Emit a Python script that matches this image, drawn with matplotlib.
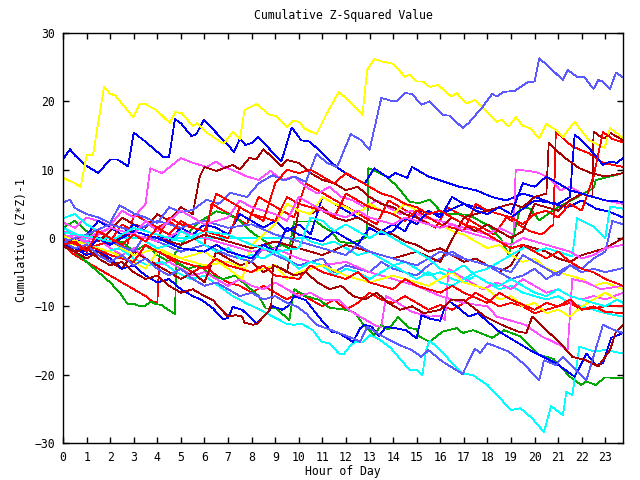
import matplotlib
matplotlib.use("Agg")
import matplotlib.pyplot as plt

# ---------------- data (hour, cumulative value) ----------------
yellow1_h = [0,0.5,0.75,1.0,1.27,1.74,2.0,2.2,2.97,3.26,3.5,3.97,4.53,4.75,5.03,5.5,5.7,6.1,6.8,7.2,7.5,7.7,8.2,8.77,9.0,9.5,9.75,10.0,10.25,10.75,11.2,11.7,12.3,12.7,12.9,13.2,13.56,14.0,14.5,14.7,15.0,15.26,15.55,15.9,16.47,16.7,17.1,17.46,18.4,18.6,18.9,19.2,19.5,19.8,20.2,20.5,20.9,21.2,21.7,22.3,22.97,23.2,23.75]
yellow1_v = [8.8,8.0,7.5,12.1,12.1,22.1,21.1,20.9,17.7,19.6,19.6,18.7,16.8,18.4,18.3,16.4,16.8,15.4,13.8,15.5,14.5,18.7,19.6,18.0,17.9,16.2,17.2,17.0,16.0,15.2,18.3,21.4,19.5,18.0,24.6,26.2,25.8,25.5,23.6,23.9,22.9,22.9,22.1,22.4,20.7,21.2,19.7,20.2,17.0,17.3,16.3,17.7,16.4,16.1,14.6,16.7,15.8,14.8,17.0,14.3,13.2,16.1,14.6]

lblue1_h = [0,0.3,0.5,1,1.5,2,2.4,3,3.5,4,4.5,5,5.5,6.1,6.6,7.1,7.8,8.3,8.9,9.4,9.8,10.3,10.5,10.75,11.2,11.6,11.7,12.2,12.65,13.0,13.5,13.9,14.2,14.5,14.8,15.2,15.55,16.1,16.4,16.95,17.2,17.8,18.2,18.4,18.7,19.15,19.7,20.0,20.2,20.6,21.2,21.4,21.8,22.1,22.5,22.7,22.9,23.2,23.45,23.75]
lblue1_v = [5.2,5.6,4.4,3.5,3.0,2.2,4.8,3.6,3.0,2.2,4.5,3.8,4.1,5.6,5.0,6.6,6.0,8.0,9.2,8.4,9.0,8.2,10.0,12.3,11.0,10.4,11.0,15.2,14.3,12.9,20.5,20.1,20.1,21.2,21.1,19.5,20.0,18.0,17.9,16.1,16.8,19.2,21.1,20.7,21.4,21.5,22.8,22.9,26.3,25.1,23.1,24.6,23.6,23.6,21.8,23.1,22.9,21.8,24.2,23.5]

blue1_h = [0,0.3,0.5,0.93,1.5,2.0,2.3,2.76,3.0,3.5,4.24,4.5,4.75,5.0,5.45,5.66,5.97,6.5,7.0,7.25,7.5,7.74,8.0,8.27,9.26,9.7,10.1,10.47,11.6,12.2,12.8,13.2,13.8,14.1,14.6,14.8,15.5,16.2,16.8,17.5,18.2,18.8,19.5,20.2,20.8,21.4,22.0,22.6,23.2,23.75]
blue1_v = [11.5,13.0,12.1,10.7,9.5,11.5,11.5,10.5,15.4,14.1,11.9,11.9,17.4,16.8,14.9,15.2,17.3,15.4,13.6,12.6,14.5,13.6,13.9,14.8,11.2,16.2,14.3,14.1,10.4,9.0,8.0,10.2,8.8,9.5,8.8,10.4,9.0,8.2,7.5,7.0,6.0,5.5,6.5,5.8,5.0,4.5,5.5,4.3,3.8,3.0]

magenta1_h = [0,0.5,1,1.5,2,2.5,3,3.5,3.7,4.2,4.75,5.0,5.5,6.1,6.5,6.8,7.3,7.8,8.3,8.8,9.3,9.8,10.3,10.8,11.3,11.8,12.3,12.8,13.3,13.8,14.3,14.8,15.3,16,17,18,18.5,19.1,19.2,19.8,20.2,20.6,21.1,21.5,22,22.5,23,23.75]
magenta1_v = [2.3,1.5,3.0,2.5,1.8,4.0,3.0,5.0,10.2,9.5,11.0,11.7,11.0,10.4,11.2,10.4,9.8,9.0,8.5,9.8,8.5,9.0,7.5,6.5,7.5,6.0,5.5,4.5,5.5,4.5,3.5,4.0,3.0,2.5,1.5,0.5,1.5,0.5,10.0,9.8,9.5,8.8,7.0,7.5,6.5,6.0,5.5,5.0]

cyan_flat_h = [0,10.3,10.5,11,11.5,12,12.5,13,13.5,14,14.5,15,15.5,16,16.5,17,17.5,18,18.5,19,19.5,20,20.5,21,21.5,22,22.5,23,23.75]
cyan_flat_v = [0,0,-0.5,-1,-0.5,-1.5,-2.5,-2,-3,-4,-3.5,-4.5,-5.5,-5,-6,-6.5,-5.5,-6.5,-7.5,-7,-8,-8.5,-9,-8.5,-9.5,-10,-10.5,-11,-11.5]

cyan_low_h = [0,0.6,1.2,1.8,2.4,3,3.6,4.2,4.8,5.4,6,6.6,7.2,7.8,8.35,8.9,9.5,9.83,10.1,10.6,10.96,11.3,11.7,11.9,12.2,12.4,12.7,13.0,13.4,13.9,14.7,15.0,15.24,15.4,15.55,16.0,16.4,16.95,17.4,18.0,18.6,19.0,19.4,19.9,20.4,20.7,21.2,21.35,21.6,21.9,22.5,23.0,23.75]
cyan_low_v = [1.5,0.5,-1,-2,-1.5,-3,-4,-3.5,-5,-6,-5.5,-7,-8.5,-9.6,-10.5,-11.5,-12.6,-12.7,-12.5,-13.5,-15.2,-15.4,-16.9,-17,-15.7,-15.2,-15.3,-14.2,-14.8,-16.1,-19.3,-19.3,-20.1,-16.4,-15.0,-16.4,-17.9,-19.8,-20.1,-21.5,-23.7,-25.2,-24.9,-26.4,-28.4,-24.6,-25.9,-22.5,-23.0,-15.9,-16.6,-16.4,-16.9]

green_low_h = [0,0.5,1,1.5,2,2.4,2.75,3.05,3.26,3.47,3.7,3.97,4.2,4.4,4.75,4.8,5.3,5.8,6.3,6.8,7.3,7.8,8.3,8.6,9.05,9.26,9.6,9.8,10.3,10.9,11.3,12.0,12.4,12.7,13.0,13.2,13.5,13.8,14.2,14.5,14.7,15.0,15.1,15.55,16.1,16.7,16.95,17.4,18.2,18.7,19.4,20.2,20.8,21.5,21.97,22.2,22.6,22.97,23.75]
green_low_v = [-0.3,-2,-3.5,-5,-6.5,-8,-9.7,-9.7,-10,-10,-9.3,-9.7,-9.8,-10.4,-11.1,-3.5,-4.5,-4,-5.5,-6,-5.5,-7,-8.5,-10.3,-10.3,-11,-12,-7.5,-8.5,-9.1,-10.2,-10.5,-11,-12.5,-13.5,-14.2,-12.7,-13.4,-11.6,-12.5,-13.2,-13.3,-14.4,-15.2,-13.7,-13.2,-13.9,-13.5,-14.6,-13.5,-14.4,-17.1,-17.7,-20.3,-21.5,-21,-21.5,-20.4,-20.5]

green_mid_h = [0,0.5,1,1.5,2,2.5,3,3.5,4,4.5,5,5.5,5.9,6.5,7,7.5,8.05,8.5,8.9,9.3,9.6,9.8,10.75,11,11.4,11.7,12.2,12.6,12.9,12.95,13.3,13.7,14.1,14.7,15.1,15.55,16.1,17.2,18.1,18.6,18.9,19.4,19.8,20.2,20.9,21.6,22.5,22.6,23.2,23.75]
green_mid_v = [1.5,2.5,1,0,-1,-0.5,-2,-1,-2.5,-3.5,-1,1.5,2.6,3.9,3.5,2.5,0.7,-0.3,-1.5,-1,-1.5,2.4,2.4,1.7,0.9,-0.5,-0.8,-0.3,0.2,10.2,9.7,9.0,7.8,5.3,5.1,5.6,3.6,3.4,1.7,-0.3,-2.5,4.6,4.3,2.6,4.3,5.6,7.3,8.5,9.0,9.5]

blue_low_h = [0,0.5,1,1.5,2,2.5,3,3.5,4,4.5,5,5.5,5.9,6.36,6.8,7.0,7.2,7.6,7.9,8.2,8.56,8.9,9.3,9.6,9.8,10.3,11,11.4,11.7,12.3,12.6,12.8,13.1,13.4,13.7,14.1,14.56,15,15.2,15.55,16,16.2,16.4,16.8,17.2,17.6,18.5,19.8,20.9,21.7,22.2,22.6,22.9,23.25,23.75]
blue_low_v = [-0.8,-1.5,-2.5,-1.8,-3,-4.5,-4,-5.5,-6.5,-6,-7.5,-8.5,-9.1,-10.3,-11.9,-11.7,-10.1,-10.5,-11.5,-12.5,-11.3,-10,-10.5,-9.8,-8.5,-9.1,-12.2,-13.7,-13.9,-15.2,-13.2,-12.7,-13,-14.4,-13,-13.2,-13.5,-14.7,-11.3,-11.8,-12.1,-10,-9.3,-10.3,-11.5,-11,-13.7,-16.4,-18.3,-20.3,-16.9,-18.6,-18.3,-14.6,-13.9]

dred_low_h = [0,0.5,1,1.5,2,2.5,3,3.5,4,4.5,5,5.5,6,6.36,6.8,7.0,7.3,7.6,7.7,8.05,8.26,8.5,8.7,8.84,8.9,9.3,9.8,10.3,10.8,11.3,11.8,12.3,12.8,13.3,13.8,14.3,14.8,15.3,16,16.5,17,17.9,18.6,19.3,19.65,19.9,20.5,21.1,21.6,22.2,22.7,23.2,23.45,23.75]
dred_low_v = [-1,-2,-1.5,-3,-4,-3.5,-5,-6,-5.5,-7,-8,-7.5,-8.5,-9.1,-10.8,-11.5,-11.3,-11.5,-12.4,-12.7,-12.5,-11.5,-10.8,-9.6,-4,-4.5,-5.5,-5,-6.5,-7.5,-7,-8.5,-9,-8,-9.5,-10.5,-10,-11,-10.5,-9,-9.1,-11.5,-12.7,-13.7,-13.9,-11.5,-13.5,-15.4,-17.4,-17.9,-18.8,-16.4,-13.7,-12.7]

lblue_low_h = [0,0.5,1,1.5,2,2.5,3,3.5,4,4.5,5,5.5,6,6.5,7,7.5,8,8.5,9,9.5,9.9,10.3,10.75,11.4,12.3,12.6,12.9,13.56,14.3,14.8,15.2,15.5,16.1,16.95,17.46,17.7,18.0,18.9,19.5,20.2,20.4,20.9,21.2,22.2,22.9,23.4,23.75]
lblue_low_v = [-0.5,-1.5,-1,-2.5,-3.5,-2.5,-4,-3,-4.5,-5.5,-4.5,-6,-7,-6.5,-7.5,-8.5,-8,-9,-8.5,-9.5,-10,-11,-12.7,-13.5,-14.7,-15.2,-13,-14.4,-15.7,-16.4,-17.4,-16.4,-18.1,-19.9,-16.2,-16.8,-15.4,-16.6,-18.3,-20.8,-17.9,-18.6,-17.4,-20.8,-12.7,-13.5,-13.9]

magenta2_h = [0,0.5,1,1.5,2,2.5,3,3.5,4,4.5,5,5.5,6,6.5,7,7.5,8,8.5,9,9.5,10,10.5,11,11.7,12.1,12.6,13.3,13.5,13.7,14.2,14.8,15.55,16.0,16.2,16.35,16.8,17.3,17.8,18.4,19,19.5,20,20.5,21,21.5,22,22.5,23,23.75]
magenta2_v = [-0.3,0.5,-1,0,-1.5,-2.5,-1.5,-3,-4,-3.5,-4.5,-5.5,-5,-6,-7,-6,-7,-7.5,-6.5,-7.5,-8.5,-8,-9,-9.1,-10.5,-11.5,-12.9,-13,-8.5,-9.5,-10.8,-11.5,-11.4,-12,-4.5,-5.5,-6.5,-7.5,-6.5,-7.5,-6,-7,-8,-7.5,-8.5,-9,-8.5,-9,-8]

magenta3_h = [0,1,2,3,4,5,6,7,8,9,10,11,12,13,14,15,16,17,18,18.4,19.6,20.3,21.1,21.4,21.6,22.2,22.8,23.75]
magenta3_v = [0.5,-0.5,1.5,0.5,-0.5,1,0,-1,-2,-1.5,-3,-4,-3.5,-5,-6,-7,-8.5,-9.5,-10,-11.5,-12.7,-14.4,-15.7,-16.4,-6,-6.5,-7.5,-7]

magenta4_h = [0,1,2,3,3.5,4,5,5.5,6,7,7.5,8,9,9.5,10,10.5,11,12,12.5,13,14,14.5,15,16,16.5,17,18,19,19.5,20,21,21.5,22,22.5,23,23.75]
magenta4_v = [1,0,1.5,0.5,2.5,1,4,3,2,3,5.5,4.5,3.5,2.5,6,5,4,3,4,3,2,3,2.5,1.5,2,1,0,-1,0,-0.5,-1.5,-2,-3,-2.5,-1.5,-1]

yellow2_h = [0,1,2,3,4,5,6,7,7.6,8,8.5,9,9.5,10,10.5,11,11.5,12,12.5,13,13.5,14,14.5,15,15.5,16,16.5,17,17.5,18,18.5,19,19.5,20,20.5,21,21.5,22,22.5,23,23.75]
yellow2_v = [-0.5,-1.5,-0.5,-2.5,-1.5,-3,-2,-4.5,-6,-1,0.5,2,5,4,3.5,6,5,4.5,3.5,5,4,3.5,5,4,3,2,1,0.5,-0.5,-1.5,-1,-2.5,-3.5,-3,-4.5,-5,-5.5,-6,-7,-6.5,-7.5]

yellow3_h = [0,1,2,3,3.5,4,5,6,7,8,9,9.5,10,11,12,13,14,15,15.5,16,16.5,17,18,18.5,19,19.5,20,20.5,21,21.5,22,22.5,23,23.75]
yellow3_v = [0.3,-1,-2,-3.5,-4.5,-2,-3,-4,-3.5,-5,-4,-6,-5,-4,-5.5,-6.5,-5.5,-6.5,-7,-6,-5,-6.5,-7.5,-9,-8.5,-10,-9.5,-11,-10.5,-11.5,-10,-9,-8,-9.5]

cyan2_h = [0,0.5,1,1.5,2,2.5,3,3.5,4,4.5,5,5.5,6,6.5,7,7.5,8,8.5,9,9.5,10,10.5,11,11.5,12,12.5,13,13.5,14,14.5,15,15.5,16,16.5,17,17.5,18,18.5,19,19.6,20,20.5,21,21.6,21.8,22.5,23,23.2,23.75]
cyan2_v = [2.9,3.5,2,1,0,-1,0.5,-0.5,-1.5,-1,1,0,-1,-2,-1.5,-3,-2.5,-3,-2,-3,-4.5,-3.5,-4,-5.5,-4.5,-5,-6,-5,-4,-5,-6,-5,-6.5,-7,-6,-5,-4.5,-3.5,-2.5,-1.3,-2,-1.5,-2,-2.7,2.9,1.7,0,4.6,4.3]

cyan3_h = [0,1,2,3,4,5,6,7,8,9,10,10.5,11,11.5,12,12.5,13,13.5,14,14.5,15,15.5,16,16.5,17,17.5,18,18.5,19,19.5,20,20.5,21,21.5,22,22.5,23,23.5,23.75]
cyan3_v = [0.8,0.3,-0.5,1.5,0.5,-0.5,1,0.5,-1,-2,-1.5,3,2.5,1,2,1,0,1,0,-1,-2,-3,-4.5,-5,-4,-5.5,-6.5,-7,-6,-7,-8,-8.5,-7.5,-8.5,-9,-9.5,-10,-9,-9.5]

blue2_h = [0,0.5,1,1.5,2,2.5,3,3.5,4,4.5,5,5.5,6,6.5,7,7.5,8,8.5,9,9.5,10,10.5,11,11.5,12,12.5,13,13.5,14,14.5,15,16,17,18,19,20,21,21.5,21.7,22,22.5,22.9,23.2,23.5,23.75]
blue2_v = [-0.5,-1,0.5,2.5,1.5,0.5,2,1,0.5,-0.5,1.5,0.5,2,1.5,0.5,3.5,2.5,1.5,2.5,1,2,0.5,6,5,4,3,2,1,2,1,4,3.5,5,4,3,5.5,5,6,15.1,14.3,12.4,10.7,11.2,11,11.7]

blue4_h = [0,1,1.5,2,3,4,5,6,6.5,7,8,8.5,9,9.5,10,11,11.5,12,12.5,13,13.5,14,14.5,15,15.5,16,16.5,17,17.5,18,18.5,19,19.5,20,20.5,21,21.5,22,22.5,23,23.75]
blue4_v = [-1,-2,0,-1,1,0,-1.5,-2,-1,-2,-3,-1,-2,1.5,0.5,-0.5,1,0,-1,1.5,0.5,1,3,2,4,3,6,5,4,3.5,4.5,3.5,8,7.5,9,8,7,6.5,6,5.5,5.3]

lblue2_h = [0,1,2,3,3.5,4,5,6,7,8,8.5,9,10,11,11.5,12,13,13.5,14,15,15.5,16,16.5,17,18,18.5,19,19.5,20,20.5,21,21.5,22,22.5,23,23.3,23.75]
lblue2_v = [0,-1.5,-0.5,-2,0.5,-0.5,-2,-1,-2.5,-3.5,-1.5,-2.5,-4,-3,-5,-4,-5,-3.5,-4.5,-5.5,-4,-3,-2,-3,-4,-5,-6,-5.5,-4.5,-6,-5,-4,-4.5,-3,-2,2.5,2]

lblue3_h = [0,1,2,3,4,5,6,7,8,9,10,11,12,12.5,13,14,15,15.5,16,17,18,19,19.5,20,20.5,21,21.5,22,22.5,23,23.75]
lblue3_v = [-0.6,0.5,2,1,2.5,1.5,2.5,1.5,2,0.5,-0.5,-1.5,-2.5,-1,-2,-3,-4,-3,-2,-3,-4,-5,-2.5,-3.5,-4.5,-5.5,-4,-5,-4.5,-5,-4.4]

red1_h = [0,0.5,1,1.2,1.7,2.2,2.7,3.0,3.5,4,4.5,5,5.5,6,6.3,6.8,7.3,7.8,8.3,8.8,9.3,9.8,10.3,10.8,11.3,11.8,12.3,12.8,13.3,13.8,14.3,14.8,15.3,15.8,16.3,16.8,17.3,17.8,18.3,18.8,19.3,19.8,20.3,20.8,20.9,21.2,21.6,22.3,22.9,23.75]
red1_v = [-0.5,-1.5,-2.5,1.5,0.5,-0.5,-1.5,3.5,2.5,1.5,2.5,1,0,-1,5,4,3,2,6,5,4,3,8,7,6,5,4,3,2,5.5,4.5,3.5,2.5,1.5,4.5,3.5,2.5,1.5,0.5,3,2,1,0.5,2,15.6,14.6,13.4,12.4,11,10.4]

red2_h = [0,0.5,1,1.5,2,2.5,3,3.5,3.8,4.0,4.1,4.5,5,5.5,6,6.5,7,7.5,8,8.5,9,9.5,10,10.5,11,11.5,12,12.5,13,13.5,14,14.5,15,15.5,16,16.5,17,17.5,18,18.5,19,19.5,20,20.5,21,21.5,22,22.5,23,23.75]
red2_v = [-1,-2.5,-3.5,-4.5,-5.5,-6.5,-7.5,-8.5,-9.3,-9.5,-2,-3,-4,-5,-4,-5.5,-6.5,-7,-8,-7,-8,-9,-8,-9,-10,-9,-10.5,-9.5,-8,-9,-9.5,-8.5,-9.5,-10.5,-9.8,-10.5,-9.5,-8,-9,-10,-9.5,-10,-11,-10.5,-10,-9.5,-10.5,-10,-10.8,-11]

red3_h = [0,1,2,2.5,3,4,4.5,5,6,7,7.5,8,9,9.5,10,11,11.5,12,12.5,13,14,14.5,15,15.5,16,17,17.5,18,19,19.5,20,20.5,21,21.5,22,22.5,22.9,23.3,23.75]
red3_v = [-0.3,-1.5,-0.5,2,1,0,3,2,1,0,4.5,3.5,2.5,6,5,4,3,6.5,5.5,4.5,3.5,2.5,4,3,2,1,5,4,3,2,3.5,4,3,5,4,9,15.5,14.5,14]

red4_h = [0,0.5,1,2,3,3.5,4,5,6,6.5,7,8,8.5,9,10,10.5,11,12,12.5,13,14,14.5,15,16,16.5,17,18,18.5,19,20,20.5,21,21.5,22,23,23.75]
red4_v = [-0.8,-2,-1,-2.5,-3.5,-1,-2,-3.5,-4.5,-3,-4,-5,-4,-5.5,-6,-4,-5,-6,-5,-6.5,-7.5,-6,-7,-8,-7,-8,-9.5,-8,-9,-10.5,-9.5,-10,-9,-10.5,-10,-10]

red5_h = [0,0.5,1,1.5,2,2.5,3,3.5,4,4.5,5,5.5,6,6.5,7,7.5,8,8.5,9,9.5,10,10.5,11,11.5,12,12.5,13,13.5,14,14.5,15,15.5,16,16.5,17,17.5,18,18.5,19,19.5,20,20.5,21,21.5,22,22.5,23,23.75]
red5_v = [-1,-0.5,-2,1,0,-1,0.5,-0.5,1.5,0.5,2.5,1.5,1,6.5,5.5,4.5,3.5,2.5,8,10,9.5,10,9,8,9.5,8.5,7.5,6.5,6,5,4.5,3.5,4,3,2,1.5,0.5,-0.5,-1.5,-1,-2,-3,-2,-3.5,-4.5,-5,-6,-7]

dred1_h = [0,0.5,1,1.5,2,2.5,3,3.5,4,4.5,5,5.5,5.8,6.0,6.5,7.2,7.5,7.9,8.2,8.5,8.9,9.26,9.5,10.0,10.5,11,11.5,12,12.5,13,13.5,14,14.5,15,15.5,16,16.5,17,17.5,18,18.5,19,19.5,20,20.5,21,21.5,22,22.45,22.5,22.8,23.0,23.2,23.75]
dred1_v = [-0.5,-1,0.5,-0.5,1,3,2,1.5,3.5,2.5,4.5,3.5,9,10.4,9.8,10.7,10,11.7,11.5,13,11.7,10.5,11.4,11,9.5,8.5,8,7,7.5,6,5,4.5,3.5,3,2,1.5,3,2,1,2,1,0,1,5,4.5,4,5.5,6.5,6,15.6,14.8,14.6,15.4,14.3]

dred2_h = [0,0.5,1,1.5,2,2.5,3,3.5,4,4.5,5,5.5,6,6.5,7,7.5,8,8.5,9,9.5,10,10.5,11,11.5,12,12.5,13,13.5,14,14.5,15,15.5,16,16.5,17,17.5,18,18.5,19,19.5,20,20.5,21,21.5,22,22.5,23,23.75]
dred2_v = [-1.2,-2,-3,-2,-3.5,-4.5,-2,-3,-4,-5,-6,-5,-6.5,-2,-3,-4,-3.5,-5,-4,-5,4,3.5,4.5,3,2.5,3,2,1,0.5,-0.5,-1,-2,-1.5,-2.5,-3.5,-3,-4,-5,-4,-1,-1.5,-2,-3,-3.5,-2.5,-2,-1.5,0]

dred3_h = [0,1,2,3,4,5,6,7,8,9,10,11,12,13,14,15,16,17,18,19,19.5,20,20.5,20.6,20.9,21.3,21.9,22.4,23,23.75]
dred3_v = [-0.8,0.5,-0.5,1,0,-1,0.5,-0.5,-1.5,-0.5,-1.5,-2.5,-1,-2,-3,-2,-3.5,3,4,5,4.5,6,6.5,13.9,12.9,11.7,10.2,9.5,9,9.5]

# series -> colour
RED, DRED, GREEN, BLUE, LBLUE = "#ff0000", "#a80000", "#00a800", "#0000ff", "#5a5aff"
MAG, CYAN, YEL = "#ff50ff", "#00ffff", "#ffff00"
series = [
    (red1_h, red1_v, RED), (green_mid_h, green_mid_v, GREEN), (blue1_h, blue1_v, BLUE),
    (magenta1_h, magenta1_v, MAG), (cyan_flat_h, cyan_flat_v, CYAN), (dred1_h, dred1_v, DRED),
    (yellow1_h, yellow1_v, YEL), (lblue1_h, lblue1_v, LBLUE),
    (red2_h, red2_v, RED), (green_low_h, green_low_v, GREEN), (blue2_h, blue2_v, BLUE),
    (magenta2_h, magenta2_v, MAG), (cyan_low_h, cyan_low_v, CYAN), (dred2_h, dred2_v, DRED),
    (yellow2_h, yellow2_v, YEL), (lblue2_h, lblue2_v, LBLUE),
    (red3_h, red3_v, RED), (blue_low_h, blue_low_v, BLUE), (magenta3_h, magenta3_v, MAG),
    (cyan2_h, cyan2_v, CYAN), (dred3_h, dred3_v, DRED), (yellow3_h, yellow3_v, YEL),
    (lblue3_h, lblue3_v, LBLUE), (red4_h, red4_v, RED), (blue4_h, blue4_v, BLUE),
    (magenta4_h, magenta4_v, MAG), (cyan3_h, cyan3_v, CYAN), (dred_low_h, dred_low_v, DRED),
    (lblue_low_h, lblue_low_v, LBLUE), (red5_h, red5_v, RED),
]

x_ticks = list(range(0, 24))
y_ticks = [-30, -20, -10, 0, 10, 20, 30]

# ---------------- plot ----------------
FONT = "DejaVu Sans Mono"
FS = 8.3
fig = plt.figure(figsize=(6.4, 4.8), dpi=100)
ax = fig.add_axes([63/640, 37/480, 560/640, 410/480])
for h, v, c in series:
    ax.plot(h, v, color=c, lw=0.55, antialiased=False, solid_joinstyle="miter")

ax.set_xlim(0, 23.75)
ax.set_ylim(-30, 30)
ax.set_xticks(x_ticks)
ax.set_yticks(y_ticks)
ax.tick_params(direction="in", length=4, width=1, top=True, right=True,
               labelsize=FS, pad=6, colors="black")
for lab in ax.get_xticklabels() + ax.get_yticklabels():
    lab.set_fontfamily(FONT)
for s in ax.spines.values():
    s.set_linewidth(1.0)
    s.set_color("black")

fig.text(343/640, 1 - 16/480, "Cumulative Z-Squared Value", ha="center", va="center",
         fontsize=FS, family=FONT)
fig.text(343/640, 1 - 471/480, "Hour of Day", ha="center", va="center",
         fontsize=FS, family=FONT)
fig.text(22/640, 1 - 240/480, "Cumulative (Z*Z)-1", ha="center", va="center",
         rotation=90, fontsize=FS, family=FONT)

fig.savefig("out.png", dpi=100)
